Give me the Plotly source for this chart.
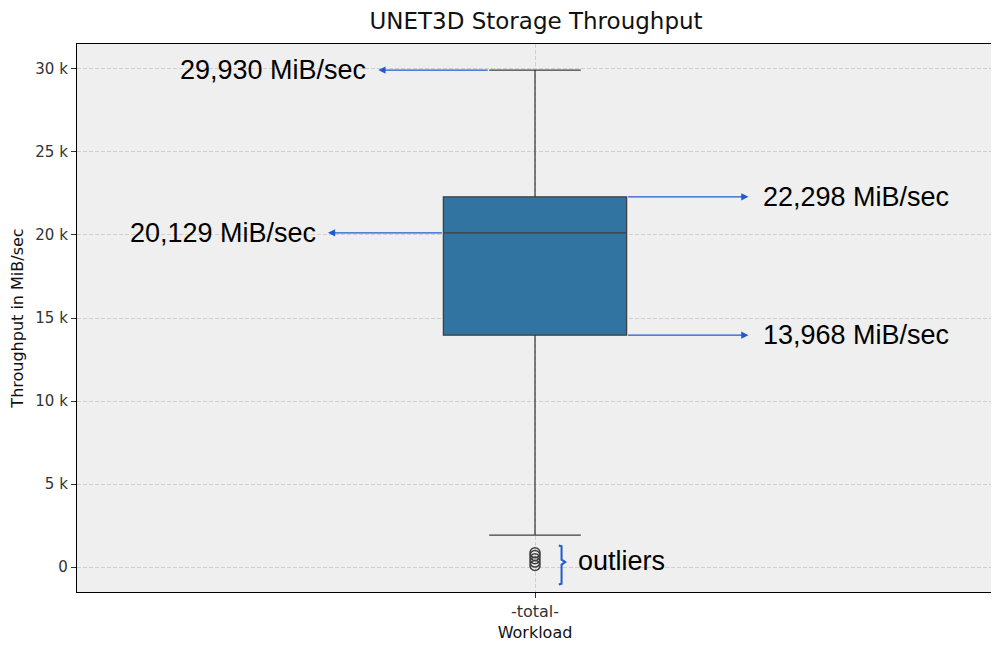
import plotly.graph_objects as go

# box statistics (MiB/sec)
workload = ["-total-"]
lower_fence = [1930]
q1 = [13968]
median = [20129]
q3 = [22298]
upper_fence = [29930]
outliers = [100, 300, 500, 700, 860]

tick_vals = [0, 5000, 10000, 15000, 20000, 25000, 30000]
tick_text = ["0", "5 k", "10 k", "15 k", "20 k", "25 k", "30 k"]

fig = go.Figure()
fig.add_trace(go.Box(
    x=workload,
    q1=q1, median=median, q3=q3,
    lowerfence=lower_fence, upperfence=upper_fence,
    width=0.2, whiskerwidth=0.5,
    fillcolor="#3274a1",
    line=dict(color="#3f3f3f", width=1.3),
    boxpoints=False,
    showlegend=False,
))
fig.add_trace(go.Scatter(
    x=workload * len(outliers),
    y=outliers,
    mode="markers",
    marker=dict(symbol="circle-open", size=10, color="#3f3f3f", line=dict(width=1.5)),
    showlegend=False,
))

blue = "#1f5bd0"
txt_font = dict(family="Liberation Sans, Arial", size=27, color="black")

# (head x, tail x, value, text side)
arrows = [
    (-0.171, -0.05, upper_fence[0], "left"),
    (-0.226, -0.1, median[0], "left"),
    (0.233, 0.1, q3[0], "right"),
    (0.233, 0.1, q1[0], "right"),
]
for head, tail, val, side in arrows:
    fig.add_annotation(
        x=head, y=val, ax=tail, ay=val, axref="x", ayref="y",
        xref="x", yref="y", text="", showarrow=True,
        arrowhead=2, arrowsize=1.1, arrowwidth=1.3, arrowcolor=blue,
    )
    if side == "left":
        fig.add_annotation(x=head - 0.011, y=val, xref="x", yref="y",
                           text=f"{val:,} MiB/sec", showarrow=False,
                           xanchor="right", yanchor="middle", font=txt_font)
    else:
        fig.add_annotation(x=head + 0.014, y=val, xref="x", yref="y",
                           text=f"{val:,} MiB/sec", showarrow=False,
                           xanchor="left", yanchor="middle", font=txt_font)

# outlier bracket
fig.add_shape(
    type="path",
    path="M 0.026,1300 L 0.029,1250 L 0.029,450 L 0.033,300 L 0.029,150 L 0.029,-1000 L 0.026,-1050",
    xref="x", yref="y", line=dict(color=blue, width=2),
)
fig.add_annotation(x=0.045, y=350, xref="x", yref="y", text="outliers",
                   showarrow=False, xanchor="left", yanchor="middle", font=txt_font)

# page body adds an 8px offset, so the figure is shrunk by that much
fig.update_layout(
    width=991, height=641,
    margin=dict(l=69, r=6, t=36, b=57, autoexpand=False),
    paper_bgcolor="white",
    plot_bgcolor="#efefef",
    font=dict(family="DejaVu Sans", color="#222"),
    title=dict(text="UNET3D Storage Throughput", x=(536 - 8) / 991, xanchor="center",
               y=1 - 5 / 641, yanchor="top", yref="container", pad=dict(t=0),
               font=dict(size=23, color="#111")),
)
fig.update_xaxes(
    range=[-0.5, 0.5],
    title=dict(text="Workload", font=dict(size=16, color="#111"), standoff=6),
    tickfont=dict(size=16, color="#333"),
    showgrid=True, gridcolor="#cfcfcf", griddash="4px,2px", gridwidth=1,
    ticks="outside", ticklen=5, tickcolor="#333",
    showline=True, linecolor="black", linewidth=1.3, mirror=True,
    zeroline=False, automargin=False,
)
fig.update_yaxes(
    range=[-1500, 31500],
    tickvals=tick_vals, ticktext=tick_text,
    title=dict(text="Throughput in MiB/sec", font=dict(size=16, color="#111"), standoff=12),
    tickfont=dict(size=15, color="#333"),
    showgrid=True, gridcolor="#cfcfcf", griddash="4px,2px", gridwidth=1,
    ticks="outside", ticklen=5, tickcolor="#333",
    showline=True, linecolor="black", linewidth=1.3, mirror=True,
    zeroline=False, automargin=False,
)

fig.write_html("out.html")
